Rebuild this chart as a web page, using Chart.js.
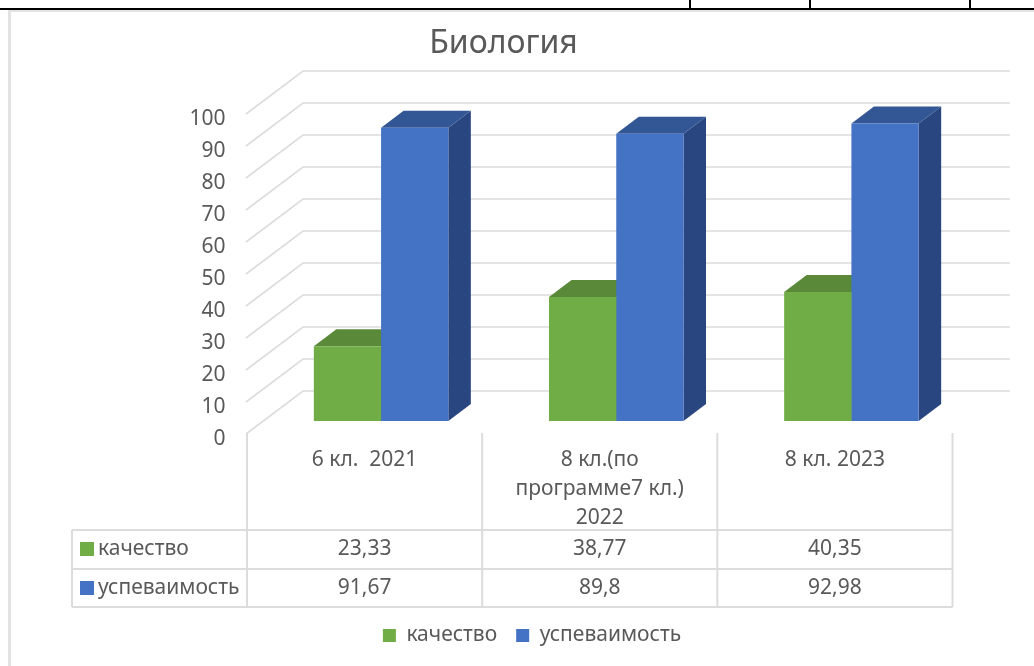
<!DOCTYPE html>
<html><head><meta charset="utf-8">
<style>html,body{margin:0;padding:0;background:#fff}canvas{display:block}</style>
<script src="https://cdn.jsdelivr.net/npm/chart.js@4/dist/chart.umd.min.js"></script>
</head><body>
<canvas id="c" width="1034" height="666"></canvas>
<script>
const categories = ["6 кл.  2021", ["8 кл.(по", "программе7 кл.)", "2022"], "8 кл. 2023"];
const seriesNames = ["качество", "успеваимость"];
const kachestvo = [23.33, 38.77, 40.35];
const uspevaemost = [91.67, 89.8, 92.98];
const titleText = "Биология";
const FONT = '"Noto Sans"';
const TXT = '#595959', GRID = '#dcdcdc';
const faceColors = ['#70ad47', '#4472c4'];
const topColors = ['#5a8a39', '#335694'];
const sideColors = ['#43682b', '#2a4680'];
const barDX = 22.5, barDY = 17;
const frontDX = 16.5, backDX = 39.5, backDY = 30, frontDY = 13;

const fmt = v => String(v).replace('.', ',');

const deco = {
  id: 'deco',
  beforeDraw(chart) {
    const c = chart.ctx;
    c.save();
    c.fillStyle = '#fff'; c.fillRect(0, 0, 1034, 666);
    c.fillStyle = '#e3e3e3'; c.fillRect(8, 10, 3, 656); c.fillRect(8, 10, 1026, 2);
    c.fillStyle = '#000'; c.fillRect(0, 8, 1034, 2);
    [690, 810, 970].forEach(x => c.fillRect(x - 1, 0, 2, 9));
    c.restore();
  },
  afterLayout(chart) {
    chart.legend.left += 28.5;
    chart.legend.right += 28.5;
    chart.legend.top += 6;
    chart.legend.bottom += 6;
  },
  beforeDatasetsDraw(chart) {
    const c = chart.ctx, y = chart.scales.y, a = chart.chartArea;
    c.save();
    c.strokeStyle = GRID; c.lineWidth = 1.6;
    y.ticks.forEach(t => {
      const py = y.getPixelForValue(t.value);
      c.beginPath();
      c.moveTo(a.left - frontDX - 1, py + frontDY);
      c.lineTo(a.left + backDX, py - backDY);
      c.lineTo(1010, py - backDY);
      c.stroke();
    });
    // depth faces of the bars
    chart.getSortedVisibleDatasetMetas().forEach((m, i) => {
      m.data.forEach(b => {
        const l = b.x - b.width / 2, r = b.x + b.width / 2, t = b.y, base = b.base;
        c.fillStyle = sideColors[i];
        c.beginPath();
        c.moveTo(r, t); c.lineTo(r + barDX, t - barDY);
        c.lineTo(r + barDX, base - barDY); c.lineTo(r, base);
        c.closePath(); c.fill();
        c.fillStyle = topColors[i];
        c.beginPath();
        c.moveTo(l, t); c.lineTo(l + barDX, t - barDY);
        c.lineTo(r + barDX, t - barDY); c.lineTo(r, t);
        c.closePath(); c.fill();
      });
    });
    c.restore();
  },
  afterDraw(chart) {
    const c = chart.ctx, x = chart.scales.x;
    const rows = [kachestvo, uspevaemost];
    const step = x.getPixelForTick(1) - x.getPixelForTick(0);
    const centers = categories.map((_, i) => x.getPixelForTick(i) - frontDX);
    const first = centers[0] - step / 2;
    const rowY = [530, 569, 607];
    const textY = [549, 588];
    const tableLeft = 72;
    c.save();
    c.strokeStyle = GRID; c.lineWidth = 2;
    for (let i = 0; i <= categories.length; i++) {
      const vx = first + i * step;
      c.beginPath(); c.moveTo(vx, 433); c.lineTo(vx, rowY[2]); c.stroke();
    }
    const right = first + categories.length * step;
    rowY.forEach(ry => { c.beginPath(); c.moveTo(tableLeft, ry); c.lineTo(right, ry); c.stroke(); });
    c.beginPath(); c.moveTo(tableLeft, rowY[0]); c.lineTo(tableLeft, rowY[2]); c.stroke();
    c.textBaseline = 'middle';
    c.font = '21px ' + FONT;
    rows.forEach((vals, r) => {
      c.fillStyle = faceColors[r];
      c.fillRect(80, textY[r] - 7, 14, 14);
      c.fillStyle = TXT;
      c.textAlign = 'left';
      c.fillText(seriesNames[r], 98, textY[r]);
      c.textAlign = 'center';
      vals.forEach((v, i) => c.fillText(fmt(v), centers[i], textY[r]));
    });
    c.restore();
  }
};

new Chart(document.getElementById('c'), {
  type: 'bar',
  data: {
    labels: categories,
    datasets: [
      { label: seriesNames[0], data: kachestvo, backgroundColor: faceColors[0] },
      { label: seriesNames[1], data: uspevaemost, backgroundColor: faceColors[1] }
    ]
  },
  plugins: [deco],
  options: {
    responsive: false,
    animation: false,
    events: [],
    layout: { padding: { left: 38, right: 65, top: 0, bottom: 16 } },
    datasets: { bar: { categoryPercentage: 0.572, barPercentage: 1 } },
    plugins: {
      tooltip: { enabled: false },
      title: {
        display: true, text: titleText, color: TXT,
        font: { family: FONT, size: 32, weight: 'normal', lineHeight: 1.2 },
        padding: { top: 25, bottom: 37.6 }
      },
      legend: {
        position: 'bottom',
        labels: {
          color: TXT, boxWidth: 13, boxHeight: 13, padding: 19,
          font: { family: FONT, size: 21 }
        }
      }
    },
    scales: {
      x: {
        grid: { display: false }, border: { display: false },
        afterFit(s) { s.height = 179; },
        ticks: {
          color: TXT, padding: 16.5, labelOffset: -frontDX, maxRotation: 0, autoSkip: false,
          font: { family: FONT, size: 21, lineHeight: 1.38 }
        }
      },
      y: {
        min: 0, max: 100,
        grid: { display: false }, border: { display: false },
        afterFit(s) { s.width = 225.5; },
        ticks: {
          stepSize: 10, color: TXT, padding: 30, labelOffset: 18,
          font: { family: FONT, size: 21 }
        }
      }
    }
  }
});
</script>
</body></html>
